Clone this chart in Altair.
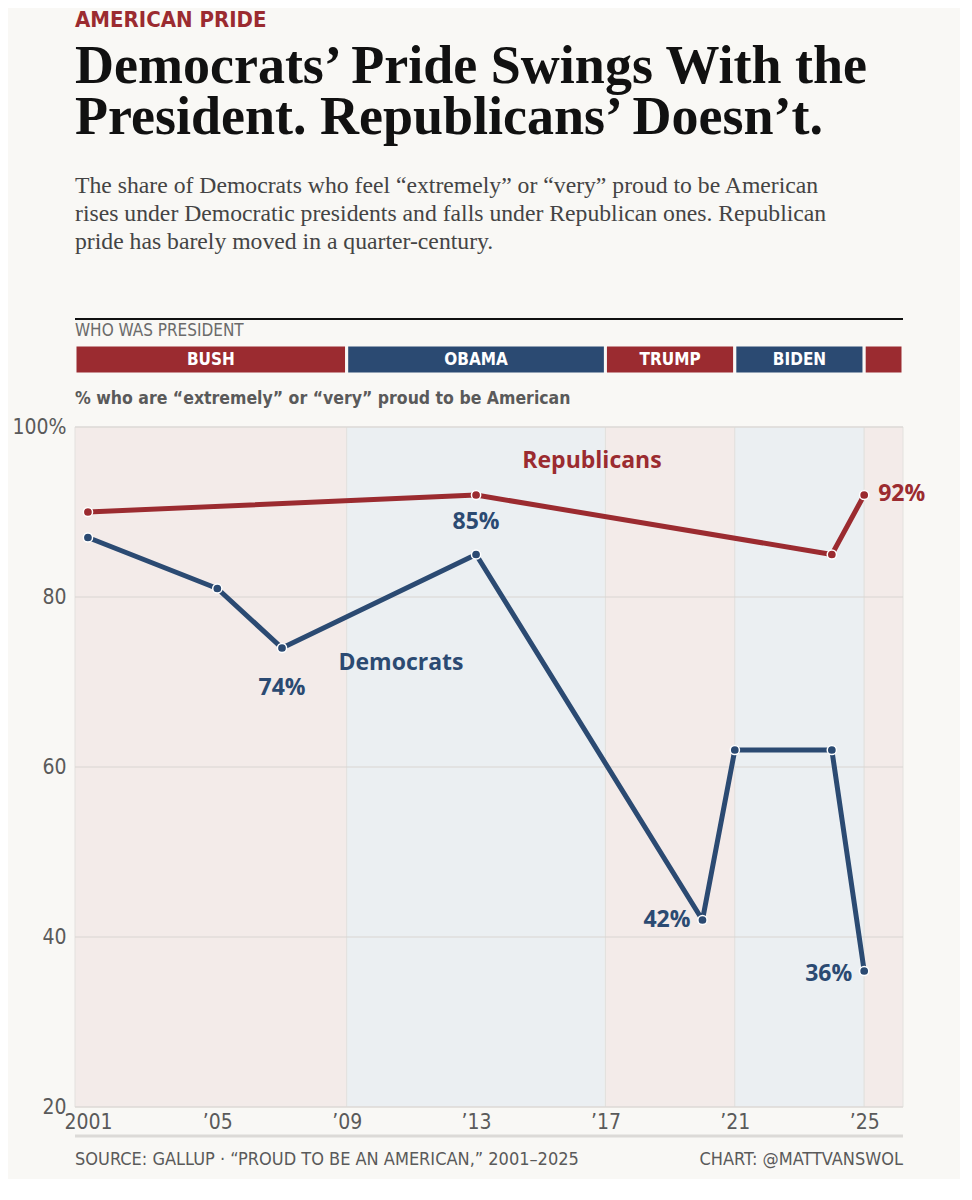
import altair as alt
import pandas as pd

# values
dem_years = [2001, 2005, 2007, 2013, 2020, 2021, 2024, 2025]
dem_values = [87, 81, 74, 85, 42, 62, 62, 36]
rep_years = [2001, 2013, 2024, 2025]
rep_values = [90, 92, 85, 92]

presidents = ["BUSH", "OBAMA", "TRUMP", "BIDEN", "TRUMP"]
parties = ["R", "D", "R", "D", "R"]
term_start = [2001, 2009, 2017, 2021, 2025]
term_end = [2009, 2017, 2021, 2025, 2029]

x_ticks = [2001, 2005, 2009, 2013, 2017, 2021, 2025]
y_ticks = [20, 40, 60, 80, 100]

kicker = "AMERICAN PRIDE"
headline = ["Democrats\u2019 Pride Swings With the", "President. Republicans\u2019 Doesn\u2019t."]
dek = [
    "The share of Democrats who feel \u201cextremely\u201d or \u201cvery\u201d proud to be American",
    "rises under Democratic presidents and falls under Republican ones. Republican",
    "pride has barely moved in a quarter-century.",
]
pres_title = "WHO WAS PRESIDENT"
y_title = "% who are \u201cextremely\u201d or \u201cvery\u201d proud to be American"
source_note = "SOURCE: GALLUP  \u00b7  \u201cPROUD TO BE AN AMERICAN,\u201d 2001\u20132025"
credit_note = "CHART: @MATTVANSWOL"

# look
W, H = 828, 680
X_MIN, X_MAX = 2000.6, 2026.2
BG = "#f9f8f5"
RED = "#9b2b30"
BLUE = "#2b4a72"
PINK = "#f3ebe9"
LBLUE = "#ebeff2"
GREY = "#5a5a5a"
COND = "Liberation Sans Narrow, DejaVu Sans Condensed, sans-serif"
SANS = "Open Sans, Liberation Sans, sans-serif"
SERIF = "Liberation Serif, DejaVu Serif, serif"

x_scale = alt.Scale(domain=[X_MIN, X_MAX], nice=False, zero=False)
y_scale = alt.Scale(domain=[20, 100], nice=False, zero=False)
series_scale = alt.Scale(domain=["Republicans", "Democrats"], range=[RED, BLUE])

x_axis = alt.Axis(
    values=x_ticks, title=None, grid=False, domain=False, ticks=False,
    labelExpr="datum.value == 2001 ? '2001' : '\u2019' + substring(toString(datum.value), 2)",
    labelFont=COND, labelFontSize=21, labelColor=GREY, labelPadding=4,
    labelOverlap=False, labelFlush=False,
)
y_axis = alt.Axis(
    values=y_ticks, title=None, grid=False, domain=False, ticks=False,
    labelExpr="datum.value == 100 ? '100%' : datum.label",
    labelFont=COND, labelFontSize=21, labelColor=GREY, labelPadding=9,
)

terms = pd.DataFrame({
    "name": presidents,
    "party": parties,
    "x0": [X_MIN] + term_start[1:],
    "x1": [min(e, X_MAX) for e in term_end],
})
series_df = pd.DataFrame({
    "series": ["Republicans"] * len(rep_years) + ["Democrats"] * len(dem_years),
    "year": rep_years + dem_years,
    "value": rep_values + dem_values,
})

# --- president strip ---
pres_base = alt.Chart(terms)
pres_rule = alt.Chart(pd.DataFrame({"t": [pres_title]})).mark_rule(color="#111", strokeWidth=2).encode(
    x=alt.value(0), x2=alt.value(W), y=alt.value(-26)
)
pres_label = alt.Chart(pd.DataFrame({"t": [pres_title]})).mark_text(
    font=COND, fontSize=17, color="#6b6b6b", align="left", baseline="middle"
).encode(x=alt.value(0), y=alt.value(-14), text="t:N")
pres_bars = pres_base.mark_rect(stroke=BG, strokeWidth=3).encode(
    x=alt.X("x0:Q", scale=x_scale, axis=None),
    x2="x1:Q",
    y=alt.value(0),
    y2=alt.value(29),
    color=alt.Color("party:N", scale=alt.Scale(domain=["R", "D"], range=[RED, BLUE]), legend=None),
)
pres_text = pres_base.transform_calculate(
    mid="(datum.x0 + datum.x1) / 2", span="datum.x1 - datum.x0"
).transform_filter("datum.span >= 2").mark_text(
    font=COND, fontSize=17, fontWeight="bold", color="white", baseline="middle"
).encode(
    x=alt.X("mid:Q", scale=x_scale, axis=None),
    y=alt.value(15),
    text="name:N",
)
pres = alt.layer(pres_rule, pres_label, pres_bars, pres_text).properties(width=W, height=29)

# --- main chart ---
bands = alt.Chart(terms).mark_rect(stroke="#e3e1de", strokeWidth=1).encode(
    x=alt.X("x0:Q", scale=x_scale, axis=x_axis),
    x2="x1:Q",
    y=alt.value(0),
    y2=alt.value(H),
    fill=alt.Fill("party:N", scale=alt.Scale(domain=["R", "D"], range=[PINK, LBLUE]), legend=None),
)
grid = alt.Chart(pd.DataFrame({"v": y_ticks})).mark_rule(color="#d9d5d2", strokeWidth=1).encode(
    y=alt.Y("v:Q", scale=y_scale, axis=y_axis)
)
lines = alt.Chart(series_df).mark_line(strokeWidth=5, strokeJoin="round").encode(
    x=alt.X("year:Q", scale=x_scale, axis=x_axis),
    y=alt.Y("value:Q", scale=y_scale, axis=y_axis),
    stroke=alt.Stroke("series:N", scale=series_scale, legend=None),
)
points = alt.Chart(series_df).mark_circle(size=85, opacity=1, stroke="white", strokeWidth=1.5).encode(
    x=alt.X("year:Q", scale=x_scale, axis=x_axis),
    y=alt.Y("value:Q", scale=y_scale, axis=y_axis),
    color=alt.Color("series:N", scale=series_scale, legend=None),
)

# value call-outs: (series, year, dx, dy, align)
callouts = [
    ("Democrats", 2013, 0, -33, "center"),
    ("Democrats", 2007, 0, 40, "center"),
    ("Democrats", 2020, -12, 0, "right"),
    ("Democrats", 2025, -12, 3, "right"),
    ("Republicans", 2025, 14, -1, "left"),
]
callout_layers = []
for s, yr, dx, dy, al in callouts:
    callout_layers.append(
        alt.Chart(series_df).transform_filter(
            f"datum.series == '{s}' && datum.year == {yr}"
        ).transform_calculate(lab="datum.value + '%'").mark_text(
            dx=dx, dy=dy, align=al, baseline="middle", font=SANS, fontSize=23, fontWeight="bold"
        ).encode(
            x=alt.X("year:Q", scale=x_scale, axis=x_axis),
            y=alt.Y("value:Q", scale=y_scale, axis=y_axis),
            text="lab:N",
            color=alt.Color("series:N", scale=series_scale, legend=None),
        )
    )

rep_name = alt.Chart(pd.DataFrame({"t": ["Republicans"]})).mark_text(
    font=SANS, fontSize=23, fontWeight="bold", color=RED, baseline="middle"
).encode(x=alt.value(517), y=alt.value(34), text="t:N")
dem_name = alt.Chart(pd.DataFrame({"t": ["Democrats"]})).mark_text(
    font=SANS, fontSize=23, fontWeight="bold", color=BLUE, baseline="middle"
).encode(x=alt.value(326), y=alt.value(236), text="t:N")

foot_rule = alt.Chart(pd.DataFrame({"t": [source_note]})).mark_rule(color="#dcdad7", strokeWidth=3).encode(
    x=alt.value(0), x2=alt.value(W), y=alt.value(H + 29)
)
foot_left = alt.Chart(pd.DataFrame({"t": [source_note]})).mark_text(
    font=COND, fontSize=18, color=GREY, align="left", baseline="middle"
).encode(x=alt.value(0), y=alt.value(H + 53), text="t:N")
foot_right = alt.Chart(pd.DataFrame({"t": [credit_note]})).mark_text(
    font=COND, fontSize=18, color=GREY, align="right", baseline="middle"
).encode(x=alt.value(W), y=alt.value(H + 53), text="t:N")

main = alt.layer(
    bands, grid, lines, points, *callout_layers, rep_name, dem_name,
    foot_rule, foot_left, foot_right,
).properties(
    width=W, height=H,
    title=alt.TitleParams(y_title, anchor="start", frame="group", font=COND,
                          fontSize=17.5, fontWeight="bold", color=GREY, offset=9),
)

inner = alt.vconcat(pres, main, spacing=53, bounds="flush").resolve_scale(
    color="independent", fill="independent", stroke="independent", x="shared"
).properties(
    title=alt.TitleParams(
        headline, anchor="start", frame="group", font=SERIF, fontSize=54,
        fontWeight="bold", color="#111", lineHeight=51, offset=64,
        subtitle=dek, subtitleFont=SERIF, subtitleFontSize=23.7, subtitleColor="#444",
        subtitleLineHeight=28, subtitlePadding=29,
    )
)

chart = alt.vconcat(inner, bounds="flush").properties(
    title=alt.TitleParams(kicker, anchor="start", frame="group", font=COND, fontSize=22,
                          fontWeight="bold", color=RED, offset=8),
    padding={"left": 3, "top": 1, "right": 34, "bottom": 10},
).configure(background=BG).configure_view(strokeWidth=0)

chart.save("out.html", embed_options={"renderer": "svg", "actions": False})
